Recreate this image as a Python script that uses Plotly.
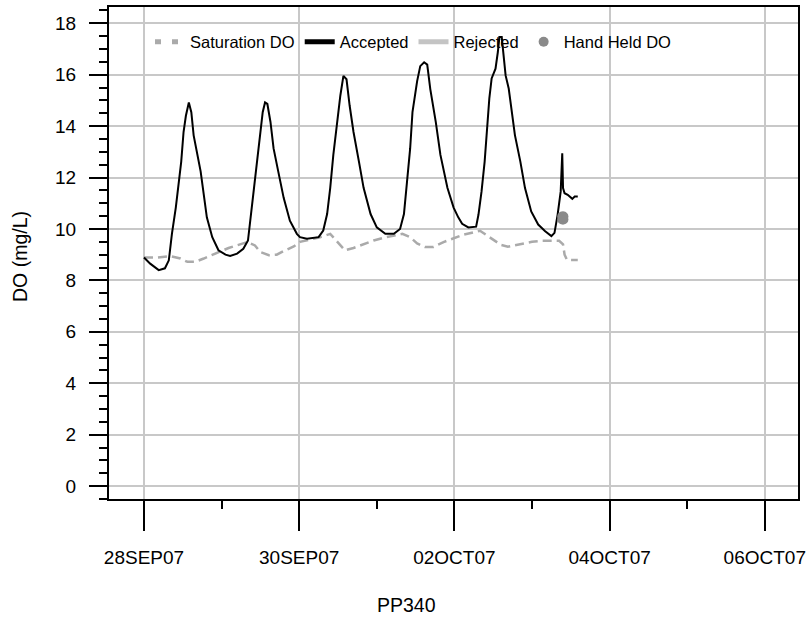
import pandas as pd
import plotly.graph_objects as go

START = pd.Timestamp("2007-09-28 00:00")

# Accepted DO (days since 28SEP07 00:00, mg/L)
acc_days = [0.00, 0.08, 0.19, 0.27, 0.32, 0.36, 0.41, 0.45, 0.48, 0.51, 0.54, 0.578, 0.61, 0.64, 0.685,
            0.73, 0.77, 0.81, 0.88, 0.96, 1.05, 1.11, 1.20, 1.28, 1.34, 1.37, 1.41, 1.46, 1.50, 1.53,
            1.56, 1.59, 1.63, 1.67, 1.73, 1.80, 1.88, 1.97, 2.01, 2.10, 2.25, 2.31, 2.36, 2.40, 2.44,
            2.49, 2.53, 2.57, 2.61, 2.65, 2.70, 2.77, 2.83, 2.92, 3.00, 3.11, 3.22, 3.30, 3.35, 3.39,
            3.43, 3.46, 3.52, 3.56, 3.61, 3.65, 3.69, 3.76, 3.82, 3.91, 3.99, 4.05, 4.10, 4.18, 4.28,
            4.31, 4.35, 4.39, 4.42, 4.45, 4.48, 4.53, 4.56, 4.58, 4.61, 4.63, 4.66, 4.70, 4.74, 4.78,
            4.85, 4.91, 4.99, 5.08, 5.17, 5.25, 5.29, 5.33, 5.37, 5.39, 5.40, 5.42, 5.46, 5.52, 5.55, 5.59]
acc_vals = [8.89, 8.65, 8.40, 8.47, 8.78, 9.81, 10.83, 11.73, 12.62, 13.77, 14.40, 14.92, 14.54, 13.64, 12.88,
            12.24, 11.34, 10.45, 9.68, 9.17, 9.00, 8.95, 9.04, 9.23, 9.55, 10.32, 11.47, 12.62, 13.77, 14.54,
            14.92, 14.86, 14.16, 13.13, 12.24, 11.21, 10.32, 9.81, 9.68, 9.62, 9.68, 9.94, 10.58, 11.60, 12.88,
            14.16, 15.18, 15.95, 15.82, 14.80, 13.77, 12.62, 11.60, 10.58, 10.06, 9.81, 9.81, 10.00, 10.58, 11.85,
            13.13, 14.54, 15.75, 16.33, 16.48, 16.39, 15.43, 14.16, 12.88, 11.60, 10.83, 10.45, 10.20, 10.06, 10.09,
            10.55, 11.46, 12.62, 13.91, 15.07, 15.85, 16.23, 16.88, 17.46, 17.46, 16.88, 15.97, 15.46, 14.55, 13.65,
            12.62, 11.59, 10.68, 10.17, 9.91, 9.72, 9.85, 10.55, 11.46, 12.94, 11.59, 11.39, 11.33, 11.17, 11.26, 11.26]

# Saturation DO
sat_days = [0.00, 0.17, 0.34, 0.47, 0.56, 0.66, 0.77, 0.88, 0.99, 1.09, 1.20, 1.33, 1.43, 1.50, 1.61,
            1.71, 1.82, 1.93, 2.01, 2.15, 2.27, 2.40, 2.49, 2.59, 2.70, 2.83, 2.96, 3.09, 3.22, 3.33,
            3.43, 3.52, 3.62, 3.73, 3.86, 3.97, 4.12, 4.33, 4.42, 4.50, 4.60, 4.69, 4.78, 4.88, 5.00,
            5.13, 5.35, 5.40, 5.42, 5.45, 5.54, 5.59]
sat_vals = [8.89, 8.89, 8.94, 8.85, 8.72, 8.72, 8.85, 8.98, 9.13, 9.26, 9.36, 9.49, 9.36, 9.10, 8.98,
            9.00, 9.17, 9.32, 9.50, 9.60, 9.68, 9.81, 9.49, 9.17, 9.26, 9.42, 9.55, 9.66, 9.74, 9.81,
            9.68, 9.44, 9.30, 9.30, 9.49, 9.62, 9.78, 9.93, 9.75, 9.57, 9.38, 9.31, 9.36, 9.44, 9.50,
            9.54, 9.54, 9.40, 9.00, 8.80, 8.79, 8.79]

# Hand held DO
hh_days = [5.390, 5.405, 5.390, 5.405]
hh_vals = [10.37, 10.37, 10.48, 10.48]

tick_dates = ["2007-09-28", "2007-09-30", "2007-10-02", "2007-10-04", "2007-10-06"]
tick_labels = ["28SEP07", "30SEP07", "02OCT07", "04OCT07", "06OCT07"]


def to_time(days):
    return START + pd.to_timedelta(days, unit="D")


FONT = "Arial, Liberation Sans, sans-serif"
SAT_C = "#aaaaaa"
REJ_C = "#c4c4c4"
HH_C = "#8a8a8a"

fig = go.Figure()

# data traces
fig.add_trace(go.Scatter(x=to_time(sat_days), y=sat_vals, mode="lines", showlegend=False,
                         line=dict(color=SAT_C, width=2.5, dash="9px,5px")))
fig.add_trace(go.Scatter(x=to_time(acc_days), y=acc_vals, mode="lines", showlegend=False,
                         line=dict(color="black", width=2)))

# legend entries
fig.add_trace(go.Scatter(x=[None], y=[None], mode="lines", name="Saturation DO",
                         line=dict(color=SAT_C, width=5, dash="6px,11px")))
fig.add_trace(go.Scatter(x=[None], y=[None], mode="lines", name="Accepted",
                         line=dict(color="black", width=5)))
fig.add_trace(go.Scatter(x=[None], y=[None], mode="lines", name="Rejected",
                         line=dict(color=REJ_C, width=5)))
fig.add_trace(go.Scatter(x=to_time(hh_days), y=hh_vals, mode="markers", name="Hand Held DO",
                         marker=dict(color=HH_C, size=10, symbol="circle")))

fig.update_layout(
    width=806, height=627,
    margin=dict(l=109, r=8, t=7, b=128, autoexpand=False),
    plot_bgcolor="white", paper_bgcolor="white",
    font=dict(family=FONT, color="black", size=19),
    showlegend=True,
    legend=dict(orientation="h", x=(150 - 109) / 689, xanchor="left",
                y=(499 - 42) / 492, yanchor="middle",
                bgcolor="rgba(0,0,0,0)", borderwidth=0,
                font=dict(family=FONT, size=16.5, color="black"),
                itemwidth=30, traceorder="normal"),
    xaxis=dict(
        range=[START - pd.Timedelta(hours=10.82), START + pd.Timedelta(days=8, hours=10.27)],
        automargin=False,
        tickmode="array", tickvals=tick_dates, ticktext=tick_labels,
        ticks="outside", ticklen=30, tickwidth=2, tickcolor="black",
        ticklabelstandoff=10,
        showgrid=True, gridcolor="#c8c8c8", gridwidth=2,
        showline=True, linecolor="black", linewidth=2, mirror=True,
        zeroline=False,
        tickfont=dict(size=19, family=FONT, color="black"),
        minor=dict(tickmode="linear", tick0="2007-09-28", dtick=86400000, ticks="outside",
                   ticklen=8, tickwidth=2, tickcolor="black", showgrid=False),
    ),
    yaxis=dict(
        range=[-0.5, 18.63],
        automargin=False,
        tickmode="linear", tick0=0, dtick=2,
        ticks="outside", ticklen=18, tickwidth=2, tickcolor="black",
        ticklabelstandoff=9,
        showgrid=True, gridcolor="#c8c8c8", gridwidth=2,
        showline=True, linecolor="black", linewidth=2, mirror=True,
        zeroline=False,
        tickfont=dict(size=19, family=FONT, color="black"),
        minor=dict(tickmode="linear", tick0=0, dtick=0.5, ticks="outside",
                   ticklen=8, tickwidth=2, tickcolor="black", showgrid=False),
    ),
    annotations=[
        dict(text="DO (mg/L)", textangle=-90, xref="paper", yref="paper",
             x=(20 - 109) / 689, y=(499 - 256) / 492, xanchor="center", yanchor="middle",
             showarrow=False, font=dict(size=19.5, family=FONT, color="black")),
        dict(text="PP340", xref="paper", yref="paper",
             x=(406 - 109) / 689, y=0, yshift=-(605 - 499), xanchor="center", yanchor="middle",
             showarrow=False, font=dict(size=19.5, family=FONT, color="black")),
    ],
)

fig.write_html("out.html")
